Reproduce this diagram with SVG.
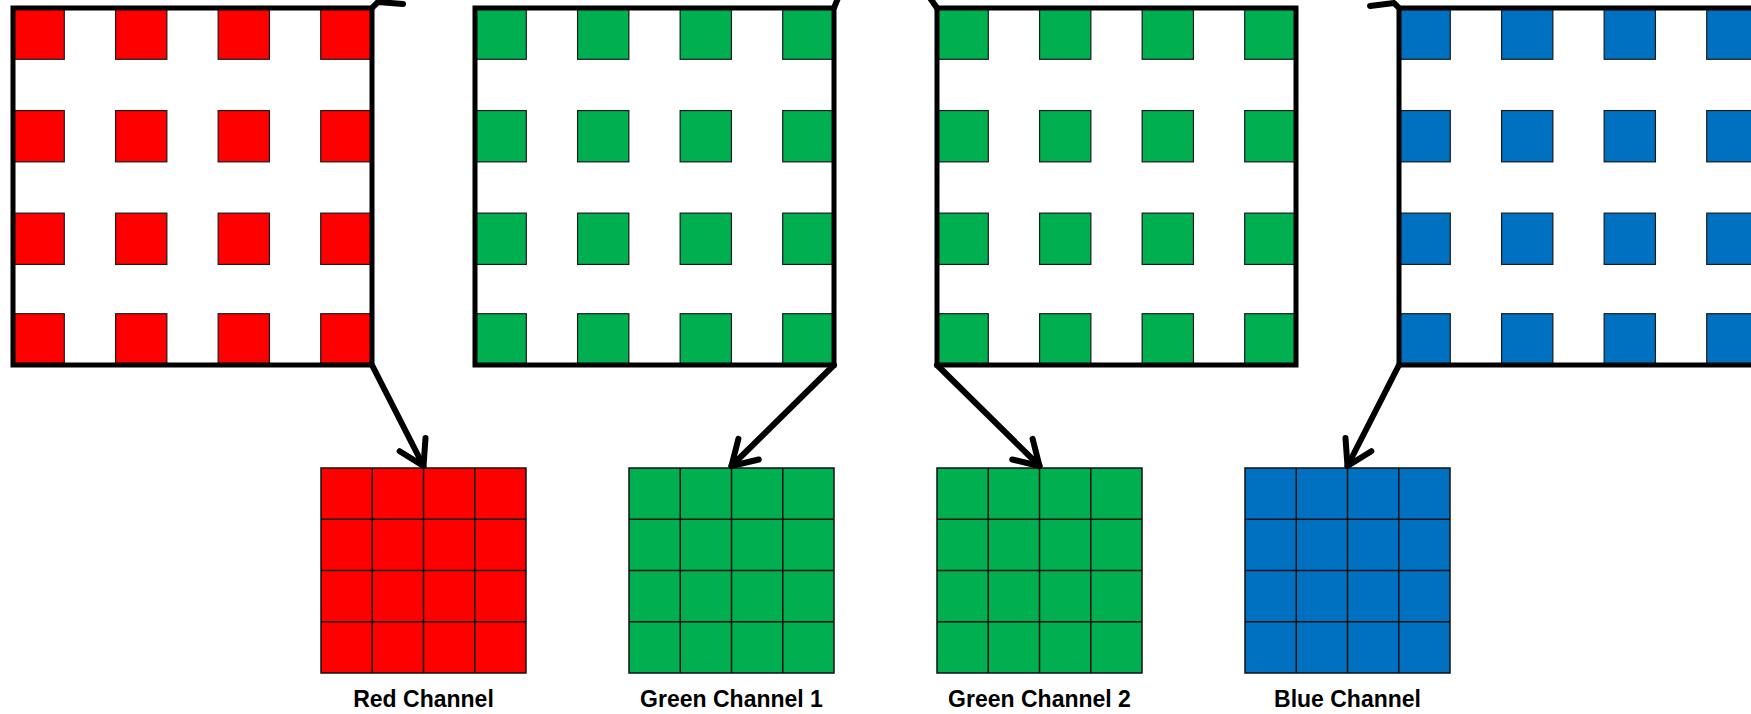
<svg xmlns="http://www.w3.org/2000/svg" width="1751" height="714" viewBox="0 0 1751 714">
<style>
.bg{fill:#fff;}
.frame{fill:none;stroke:#000;stroke-width:5;}
.sq{stroke:#1a1a1a;stroke-width:1.2;}
.r{fill:#ff0000;}
.g{fill:#00b050;}
.b{fill:#0070c0;}
.gl{stroke:#111;stroke-width:1.5;fill:none;}
.conn{fill:none;stroke:#000;stroke-width:6;stroke-linecap:round;stroke-linejoin:round;}
.lbl{font-family:"Liberation Sans",Arial,sans-serif;font-weight:bold;font-size:23px;fill:#000;text-anchor:middle;}
</style>
<defs>
<marker id="arr" markerUnits="userSpaceOnUse" viewBox="-30 -20 40 40" refX="0" refY="0" markerWidth="40" markerHeight="40" orient="auto" overflow="visible">
<path d="M-24,-14.5 L0,0 L-24,14.5" fill="none" stroke="#000" stroke-width="6" stroke-linecap="round" stroke-linejoin="round"/>
</marker>
</defs>
<rect x="0" y="0" width="1751" height="714" fill="#fff"/>

<g id="bayer-red">
<rect class="bg" x="13" y="8" width="359" height="357"/>
<rect class="sq r" x="13" y="8" width="51.29" height="51.29"/>
<rect class="sq r" x="115.57" y="8" width="51.29" height="51.29"/>
<rect class="sq r" x="218.14" y="8" width="51.29" height="51.29"/>
<rect class="sq r" x="320.71" y="8" width="51.29" height="51.29"/>
<rect class="sq r" x="13" y="110.57" width="51.29" height="51.29"/>
<rect class="sq r" x="115.57" y="110.57" width="51.29" height="51.29"/>
<rect class="sq r" x="218.14" y="110.57" width="51.29" height="51.29"/>
<rect class="sq r" x="320.71" y="110.57" width="51.29" height="51.29"/>
<rect class="sq r" x="13" y="213.14" width="51.29" height="51.29"/>
<rect class="sq r" x="115.57" y="213.14" width="51.29" height="51.29"/>
<rect class="sq r" x="218.14" y="213.14" width="51.29" height="51.29"/>
<rect class="sq r" x="320.71" y="213.14" width="51.29" height="51.29"/>
<rect class="sq r" x="13" y="313.71" width="51.29" height="51.29"/>
<rect class="sq r" x="115.57" y="313.71" width="51.29" height="51.29"/>
<rect class="sq r" x="218.14" y="313.71" width="51.29" height="51.29"/>
<rect class="sq r" x="320.71" y="313.71" width="51.29" height="51.29"/>
<rect class="frame" x="13" y="8" width="359" height="357"/>
</g>

<g id="bayer-green1">
<rect class="bg" x="475" y="8" width="359" height="357"/>
<rect class="sq g" x="475" y="8" width="51.29" height="51.29"/>
<rect class="sq g" x="577.57" y="8" width="51.29" height="51.29"/>
<rect class="sq g" x="680.14" y="8" width="51.29" height="51.29"/>
<rect class="sq g" x="782.71" y="8" width="51.29" height="51.29"/>
<rect class="sq g" x="475" y="110.57" width="51.29" height="51.29"/>
<rect class="sq g" x="577.57" y="110.57" width="51.29" height="51.29"/>
<rect class="sq g" x="680.14" y="110.57" width="51.29" height="51.29"/>
<rect class="sq g" x="782.71" y="110.57" width="51.29" height="51.29"/>
<rect class="sq g" x="475" y="213.14" width="51.29" height="51.29"/>
<rect class="sq g" x="577.57" y="213.14" width="51.29" height="51.29"/>
<rect class="sq g" x="680.14" y="213.14" width="51.29" height="51.29"/>
<rect class="sq g" x="782.71" y="213.14" width="51.29" height="51.29"/>
<rect class="sq g" x="475" y="313.71" width="51.29" height="51.29"/>
<rect class="sq g" x="577.57" y="313.71" width="51.29" height="51.29"/>
<rect class="sq g" x="680.14" y="313.71" width="51.29" height="51.29"/>
<rect class="sq g" x="782.71" y="313.71" width="51.29" height="51.29"/>
<rect class="frame" x="475" y="8" width="359" height="357"/>
</g>

<g id="bayer-green2">
<rect class="bg" x="937" y="8" width="359" height="357"/>
<rect class="sq g" x="937" y="8" width="51.29" height="51.29"/>
<rect class="sq g" x="1039.57" y="8" width="51.29" height="51.29"/>
<rect class="sq g" x="1142.14" y="8" width="51.29" height="51.29"/>
<rect class="sq g" x="1244.71" y="8" width="51.29" height="51.29"/>
<rect class="sq g" x="937" y="110.57" width="51.29" height="51.29"/>
<rect class="sq g" x="1039.57" y="110.57" width="51.29" height="51.29"/>
<rect class="sq g" x="1142.14" y="110.57" width="51.29" height="51.29"/>
<rect class="sq g" x="1244.71" y="110.57" width="51.29" height="51.29"/>
<rect class="sq g" x="937" y="213.14" width="51.29" height="51.29"/>
<rect class="sq g" x="1039.57" y="213.14" width="51.29" height="51.29"/>
<rect class="sq g" x="1142.14" y="213.14" width="51.29" height="51.29"/>
<rect class="sq g" x="1244.71" y="213.14" width="51.29" height="51.29"/>
<rect class="sq g" x="937" y="313.71" width="51.29" height="51.29"/>
<rect class="sq g" x="1039.57" y="313.71" width="51.29" height="51.29"/>
<rect class="sq g" x="1142.14" y="313.71" width="51.29" height="51.29"/>
<rect class="sq g" x="1244.71" y="313.71" width="51.29" height="51.29"/>
<rect class="frame" x="937" y="8" width="359" height="357"/>
</g>

<g id="bayer-blue">
<rect class="bg" x="1399" y="8" width="359" height="357"/>
<rect class="sq b" x="1399" y="8" width="51.29" height="51.29"/>
<rect class="sq b" x="1501.57" y="8" width="51.29" height="51.29"/>
<rect class="sq b" x="1604.14" y="8" width="51.29" height="51.29"/>
<rect class="sq b" x="1706.71" y="8" width="51.29" height="51.29"/>
<rect class="sq b" x="1399" y="110.57" width="51.29" height="51.29"/>
<rect class="sq b" x="1501.57" y="110.57" width="51.29" height="51.29"/>
<rect class="sq b" x="1604.14" y="110.57" width="51.29" height="51.29"/>
<rect class="sq b" x="1706.71" y="110.57" width="51.29" height="51.29"/>
<rect class="sq b" x="1399" y="213.14" width="51.29" height="51.29"/>
<rect class="sq b" x="1501.57" y="213.14" width="51.29" height="51.29"/>
<rect class="sq b" x="1604.14" y="213.14" width="51.29" height="51.29"/>
<rect class="sq b" x="1706.71" y="213.14" width="51.29" height="51.29"/>
<rect class="sq b" x="1399" y="313.71" width="51.29" height="51.29"/>
<rect class="sq b" x="1501.57" y="313.71" width="51.29" height="51.29"/>
<rect class="sq b" x="1604.14" y="313.71" width="51.29" height="51.29"/>
<rect class="sq b" x="1706.71" y="313.71" width="51.29" height="51.29"/>
<rect class="frame" x="1399" y="8" width="359" height="357"/>
</g>

<g id="red-channel">
<rect class="r" x="321" y="468" width="205" height="205" stroke="#111" stroke-width="1.5"/>
<path class="gl" d="M372.25,468V673M423.5,468V673M474.75,468V673M321,519.25H526M321,570.5H526M321,621.75H526"/>
<text class="lbl" x="423.5" y="707">Red Channel</text>
</g>

<g id="green-channel-1">
<rect class="g" x="629" y="468" width="205" height="205" stroke="#111" stroke-width="1.5"/>
<path class="gl" d="M680.25,468V673M731.5,468V673M782.75,468V673M629,519.25H834M629,570.5H834M629,621.75H834"/>
<text class="lbl" x="731.5" y="707">Green Channel 1</text>
</g>

<g id="green-channel-2">
<rect class="g" x="937" y="468" width="205" height="205" stroke="#111" stroke-width="1.5"/>
<path class="gl" d="M988.25,468V673M1039.5,468V673M1090.75,468V673M937,519.25H1142M937,570.5H1142M937,621.75H1142"/>
<text class="lbl" x="1039.5" y="707">Green Channel 2</text>
</g>

<g id="blue-channel">
<rect class="b" x="1245" y="468" width="205" height="205" stroke="#111" stroke-width="1.5"/>
<path class="gl" d="M1296.25,468V673M1347.5,468V673M1398.75,468V673M1245,519.25H1450M1245,570.5H1450M1245,621.75H1450"/>
<text class="lbl" x="1347.5" y="707">Blue Channel</text>
</g>

<g id="connectors">
<path class="conn" d="M372,365 L423.5,466" marker-end="url(#arr)"/>
<path class="conn" d="M834,365 L731.5,466" marker-end="url(#arr)"/>
<path class="conn" d="M937,365 L1039.5,466" marker-end="url(#arr)"/>
<path class="conn" d="M1399,365 L1347.5,466" marker-end="url(#arr)"/>
<path class="conn" d="M372,8 L378,2 L403,4"/>
<path class="conn" d="M834,8 L838,-2"/>
<path class="conn" d="M937,8 L930,-2"/>
<path class="conn" d="M1399,8 L1394,3 L1370,6"/>
</g>
</svg>
